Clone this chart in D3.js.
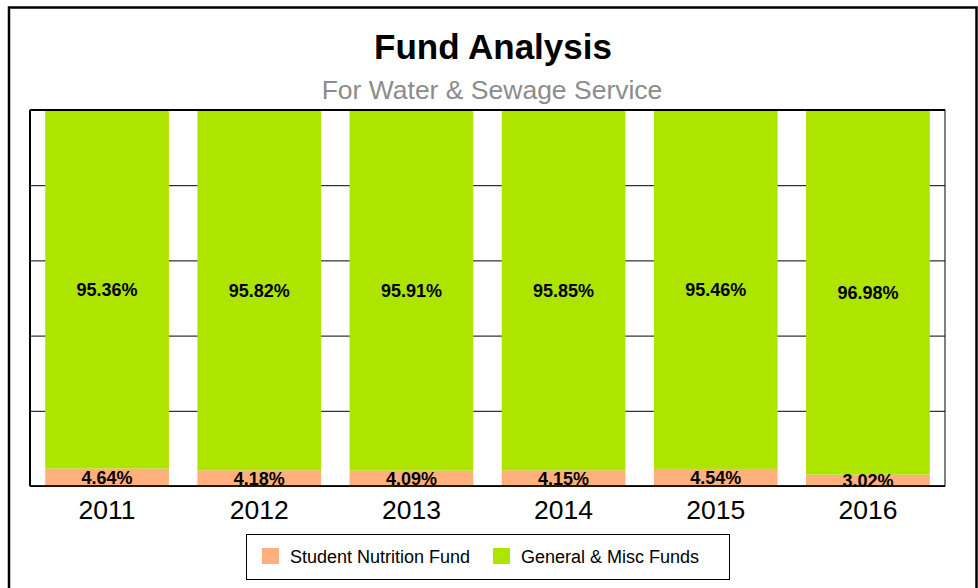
<!DOCTYPE html>
<html>
<head>
<meta charset="utf-8">
<script src="https://cdn.jsdelivr.net/npm/d3@7"></script>
<style>
body{margin:0;background:#fff;font-family:"Liberation Sans",Arial,sans-serif;}
svg{display:block;}
</style>
</head>
<body>
<div id="chart"></div>
<script>
/* Fund Analysis — 100% stacked columns, two fund series per year */
var years=["2011","2012","2013","2014","2015","2016"];
var nutrition=[4.64,4.18,4.09,4.15,4.54,3.02];
var general=[95.36,95.82,95.91,95.85,95.46,96.98];
var seriesNames=["Student Nutrition Fund","General & Misc Funds"];
var seriesColors=["#ffb07c","#ade400"];
var yTicks=[0,20,40,60,80,100];

var W=978,H=588;
var svg=d3.select("#chart").append("svg").attr("width",W).attr("height",H);

// outer frame (open at bottom)
svg.append("path").attr("d","M9,588V7.5H976.5V588").attr("fill","none").attr("stroke","#000").attr("stroke-width",2.5);

svg.append("text").attr("x",493).attr("y",59).attr("text-anchor","middle")
    .style("font-size","35px").style("font-weight","bold").text("Fund Analysis");
svg.append("text").attr("x",492).attr("y",99).attr("text-anchor","middle")
    .style("font-size","26.5px").attr("fill","#8c8c8c").text("For Water & Sewage Service");

var m={left:30,top:110,right:945,bottom:486};
var x=d3.scaleBand().domain(years).range([m.left,m.right]).paddingInner(0.187).paddingOuter(0.1);
var y=d3.scaleLinear().domain([0,100]).range([m.bottom,m.top]);

var g=svg.append("g");
// gridlines
g.append("g").attr("transform","translate("+m.left+",0)")
    .call(d3.axisLeft(y).tickValues(yTicks).tickSize(-(m.right-m.left)).tickFormat(""))
    .call(function(s){s.select(".domain").remove();s.selectAll("line").attr("stroke","#000").attr("stroke-width",1);});

var rows=years.map(function(yr,i){return {year:yr,a:nutrition[i],b:general[i]};});

// bars
g.selectAll("rect.nut").data(rows).enter().append("rect").attr("class","nut")
    .attr("x",function(d){return x(d.year);}).attr("width",x.bandwidth())
    .attr("y",function(d){return y(d.a);}).attr("height",function(d){return y(0)-y(d.a)+1;})
    .attr("fill",seriesColors[0]);
g.selectAll("rect.gen").data(rows).enter().append("rect").attr("class","gen")
    .attr("x",function(d){return x(d.year);}).attr("width",x.bandwidth())
    .attr("y",function(d){return y(d.a+d.b);}).attr("height",function(d){return y(d.a)-y(d.a+d.b);})
    .attr("fill",seriesColors[1]);

// plot frame
g.append("rect").attr("x",m.left).attr("y",m.top).attr("width",m.right-m.left).attr("height",m.bottom-m.top)
    .attr("fill","none").attr("stroke","#000").attr("stroke-width",1);
g.append("line").attr("x1",m.left).attr("x2",m.right).attr("y1",m.top).attr("y2",m.top).attr("stroke","#000").attr("stroke-width",2);
g.append("line").attr("x1",m.left).attr("x2",m.left).attr("y1",m.top).attr("y2",m.bottom).attr("stroke","#000").attr("stroke-width",2);
g.append("line").attr("x1",m.left).attr("x2",m.right).attr("y1",m.bottom).attr("y2",m.bottom).attr("stroke","#000").attr("stroke-width",1.5);

// value labels
g.selectAll("text.lab-a").data(rows).enter().append("text").attr("class","lab-a")
    .attr("x",function(d){return x(d.year)+x.bandwidth()/2;})
    .attr("y",function(d){return (y(0)+y(d.a))/2+6.5;})
    .attr("text-anchor","middle").style("font-size","18px").style("font-weight","bold")
    .text(function(d){return d.a.toFixed(2)+"%";});
g.selectAll("text.lab-b").data(rows).enter().append("text").attr("class","lab-b")
    .attr("x",function(d){return x(d.year)+x.bandwidth()/2;})
    .attr("y",function(d){return (y(d.a)+y(d.a+d.b))/2+6.5;})
    .attr("text-anchor","middle").style("font-size","18px").style("font-weight","bold")
    .text(function(d){return d.b.toFixed(2)+"%";});

// x axis labels
g.append("g").attr("transform","translate(0,"+m.bottom+")")
    .call(d3.axisBottom(x).tickSize(0).tickPadding(12))
    .call(function(s){s.select(".domain").remove();
        s.selectAll("text").attr("dy",null).attr("y",33).style("font-size","26.5px")
            .style("font-family","'Liberation Sans',Arial,sans-serif").attr("fill","#000");});

// legend
var lg=svg.append("g").attr("transform","translate(246,534)");
lg.append("rect").attr("x",0.5).attr("y",0.5).attr("width",483).attr("height",45).attr("fill","#fff").attr("stroke","#000").attr("stroke-width",1);
var lx=[16,247];
seriesNames.forEach(function(s,i){
    lg.append("rect").attr("x",lx[i]).attr("y",14).attr("width",17).attr("height",16).attr("fill",seriesColors[i]);
    lg.append("text").attr("x",lx[i]+28).attr("y",28.5).style("font-size","18px").text(s);
});
</script>
</body>
</html>
